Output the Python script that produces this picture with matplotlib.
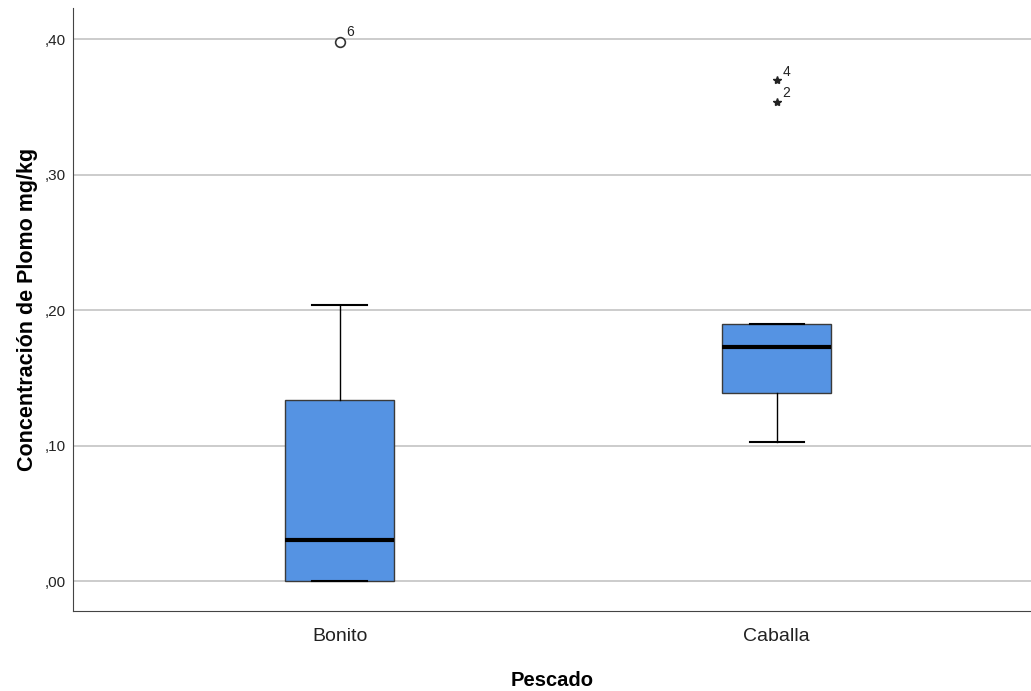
import matplotlib
matplotlib.use("Agg")
import matplotlib.pyplot as plt

plt.rcParams['font.family'] = ['Liberation Sans', 'DejaVu Sans']

# box statistics
groups = ['Bonito', 'Caballa']
whisker_low = [0.000, 0.1025]
q1 = [0.000, 0.139]
median = [0.0303, 0.173]
q3 = [0.1336, 0.190]
whisker_high = [0.2035, 0.190]

# flagged cases: (group index, value, case label, marker)
outlier_group = [0, 1, 1]
outlier_value = [0.398, 0.370, 0.354]
outlier_label = ['6', '4', '2']
outlier_marker = ['o', '*', '*']

yticks = [0.0, 0.1, 0.2, 0.3, 0.4]
ytick_labels = [',00', ',10', ',20', ',30', ',40']

fig = plt.figure(figsize=(10.31, 6.91), dpi=100)
ax = fig.add_axes([0.0708, 0.1158, 0.9292, 0.8722])

stats = []
for i, g in enumerate(groups):
    stats.append(dict(label=g, whislo=whisker_low[i], q1=q1[i], med=median[i],
                      q3=q3[i], whishi=whisker_high[i], fliers=[]))

positions = [1, 2]
ax.bxp(stats, positions=positions, widths=0.25, patch_artist=True,
       showfliers=False,
       boxprops=dict(facecolor='#5593e3', edgecolor='#3a3a3a', linewidth=1.0),
       medianprops=dict(color='black', linewidth=3),
       whiskerprops=dict(color='black', linewidth=1.0),
       capprops=dict(color='black', linewidth=1.5),
       capwidths=0.124, zorder=3)

for gi, v, lab, m in zip(outlier_group, outlier_value, outlier_label, outlier_marker):
    x = positions[gi]
    if m == 'o':
        ax.plot(x, v, marker='o', ms=7, mfc='white', mec='#333333', mew=1.2,
                linestyle='none', zorder=4)
        ax.annotate(lab, (x, v), xytext=(5, 4), textcoords='offset points',
                    fontsize=10, color='#222222')
    else:
        ax.plot(x, v, marker='*', ms=6, color='#222222', linestyle='none', zorder=4)
        ax.annotate(lab, (x, v), xytext=(4, 3), textcoords='offset points',
                    fontsize=10, color='#222222')

ax.set_xlim(0.39, 2.582)
ax.set_ylim(-0.0221, 0.4229)
ax.set_yticks(yticks)
ax.set_yticklabels(ytick_labels, fontsize=11, color='#222222')
ax.set_xticks(positions)
ax.set_xticklabels(groups, fontsize=14, color='#222222')
ax.yaxis.grid(True, color='#c4c4c4', linewidth=1.2, zorder=0)
ax.set_axisbelow(True)

for s in ['top', 'right']:
    ax.spines[s].set_visible(False)
ax.spines['left'].set_color('#444444')
ax.spines['bottom'].set_color('#444444')
ax.tick_params(axis='x', length=0, pad=12)
ax.tick_params(axis='y', length=0, pad=5)

ax.set_ylabel('Concentración de Plomo mg/kg', fontsize=15.5, fontweight='bold',
              labelpad=5)
ax.set_xlabel('Pescado', fontsize=14.5, fontweight='bold', labelpad=19)

fig.savefig('out.png', dpi=100)
